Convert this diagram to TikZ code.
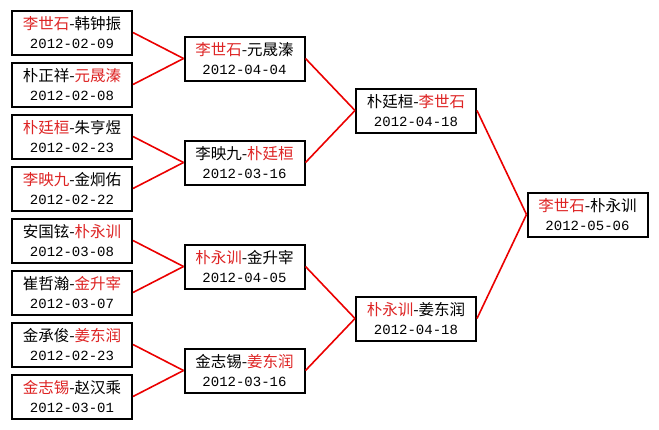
\documentclass[tikz,border=0pt]{standalone}
\usepackage{fontspec}
\newfontfamily\cjk{Noto Sans CJK SC}
\newfontfamily\monof{Liberation Mono}
\definecolor{winred}{RGB}{222,36,36}
\definecolor{linered}{RGB}{235,0,0}
\newcommand{\rd}[1]{\textcolor{winred}{#1}}
\newcommand{\mt}[2]{#1\\\monof\fontsize{14}{18.5}\selectfont #2}
\tikzset{
  matchbox/.style={draw=black, line width=2pt, fill=white, minimum width=120pt, minimum height=44pt,
    inner sep=0pt, align=center, text=black, font=\cjk\fontsize{15.5}{18.5}\selectfont},
  link/.style={draw=linered, line width=1.6pt}
}
\begin{document}
\begin{tikzpicture}[x=1pt,y=-1pt]
\useasboundingbox (0,0) rectangle (659,429);
\fill[white] (0,0) rectangle (659,429);
% column 1
\node[matchbox] (a1) at (72,32.5)  {\mt{\rd{李世石}-韩钟振}{2012-02-09}};
\node[matchbox] (a2) at (72,84.5)  {\mt{朴正祥-\rd{元晟溱}}{2012-02-08}};
\node[matchbox] (a3) at (72,136.5) {\mt{\rd{朴廷桓}-朱亨煜}{2012-02-23}};
\node[matchbox] (a4) at (72,188.5) {\mt{\rd{李映九}-金炯佑}{2012-02-22}};
\node[matchbox] (a5) at (72,240.5) {\mt{安国铉-\rd{朴永训}}{2012-03-08}};
\node[matchbox] (a6) at (72,292.5) {\mt{崔哲瀚-\rd{金升宰}}{2012-03-07}};
\node[matchbox] (a7) at (72,344.5) {\mt{金承俊-\rd{姜东润}}{2012-02-23}};
\node[matchbox] (a8) at (72,396.5) {\mt{\rd{金志锡}-赵汉乘}{2012-03-01}};
% column 2
\node[matchbox] (b1) at (244.5,58.5)  {\mt{\rd{李世石}-元晟溱}{2012-04-04}};
\node[matchbox] (b2) at (244.5,162.5) {\mt{李映九-\rd{朴廷桓}}{2012-03-16}};
\node[matchbox] (b3) at (244.5,266.5) {\mt{\rd{朴永训}-金升宰}{2012-04-05}};
\node[matchbox] (b4) at (244.5,370.5) {\mt{金志锡-\rd{姜东润}}{2012-03-16}};
% column 3
\node[matchbox] (c1) at (416,110.5) {\mt{朴廷桓-\rd{李世石}}{2012-04-18}};
\node[matchbox] (c2) at (416,318.5) {\mt{\rd{朴永训}-姜东润}{2012-04-18}};
% final
\node[matchbox] (d) at (587.5,214.5) {\mt{\rd{李世石}-朴永训}{2012-05-06}};
% connectors
\draw[link] (a1.east) -- (b1.west);
\draw[link] (a2.east) -- (b1.west);
\draw[link] (a3.east) -- (b2.west);
\draw[link] (a4.east) -- (b2.west);
\draw[link] (a5.east) -- (b3.west);
\draw[link] (a6.east) -- (b3.west);
\draw[link] (a7.east) -- (b4.west);
\draw[link] (a8.east) -- (b4.west);
\draw[link] (b1.east) -- (c1.west);
\draw[link] (b2.east) -- (c1.west);
\draw[link] (b3.east) -- (c2.west);
\draw[link] (b4.east) -- (c2.west);
\draw[link] (c1.east) -- (d.west);
\draw[link] (c2.east) -- (d.west);
\end{tikzpicture}
\end{document}
